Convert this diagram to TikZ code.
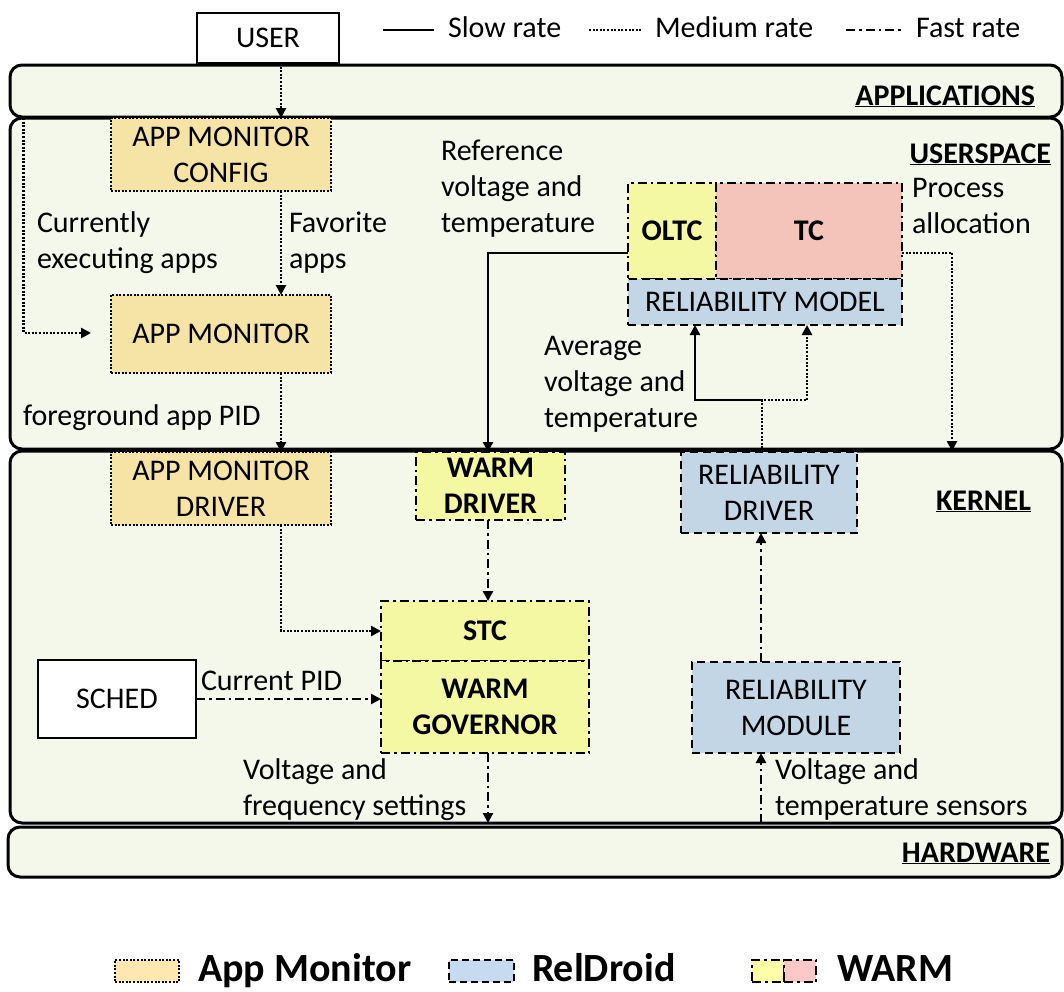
\documentclass[tikz,border=0pt]{standalone}
\usepackage{fontspec}
\setmainfont{Carlito}
\usetikzlibrary{arrows.meta,calc}

\definecolor{layerfill}{RGB}{244,248,235}
\definecolor{amfill}{RGB}{246,227,166}
\definecolor{warmy}{RGB}{244,248,163}
\definecolor{warmp}{RGB}{244,195,185}
\definecolor{relblue}{RGB}{195,214,230}
\definecolor{amlegend}{RGB}{255,232,176}
\definecolor{rellegend}{RGB}{198,218,240}
\definecolor{ylegend}{RGB}{255,255,166}
\definecolor{plegend}{RGB}{255,200,200}

\newcommand{\nf}{\fontsize{30}{36}\selectfont}
\newcommand{\lf}{\fontsize{40}{46}\selectfont\bfseries}

\tikzset{
  every node/.style={font=\nf, inner sep=0pt, outer sep=0pt},
  layer/.style={draw, line width=3pt, rounded corners=12pt, fill=layerfill, anchor=north west},
  slow/.style={line width=2.4pt},
  medium/.style={line width=2.6pt, dash pattern=on 2pt off 1.6pt},
  fast/.style={line width=2.4pt, dash pattern=on 9pt off 4pt on 2.5pt off 4pt},
  conn/.style={-{Triangle[length=10pt,width=10pt]}},
  amstyle/.style={draw, medium, fill=amfill, anchor=north west, align=center},
  relstyle/.style={draw, line width=2.6pt, dash pattern=on 8pt off 5pt, fill=relblue, anchor=north west, align=center},
  warmstyle/.style={draw, fast, line width=2.6pt, fill=warmy, anchor=north west, align=center, font=\nf\bfseries},
  plainbox/.style={draw, line width=2.6pt, fill=white, anchor=north west},
  % multi-line labels are placed by the baseline of their last line
  lbl/.style={anchor=base west, align=left},
  layertitle/.style={anchor=base east, font=\nf\bfseries},
}

\begin{document}
\begin{tikzpicture}[x=1pt,y=-1pt]
\useasboundingbox (0,0) rectangle (1064,991);

% rate legend
\coordinate (s1) at (383,30); \coordinate (s2) at (434,30);
\draw[slow] (s1) -- (s2);
\node[anchor=base west] (slowtxt) at (448,37) {Slow rate};
\coordinate (m1) at (589,30); \coordinate (m2) at (641,30);
\draw[medium] (m1) -- (m2);
\node[anchor=base west] (medtxt) at (655,37) {Medium rate};
\coordinate (f1) at (846,30); \coordinate (f2) at (903,30);
\draw[fast] (f1) -- (f2);
\node[anchor=base west] (fasttxt) at (916,37) {Fast rate};

% software layers
\node[layer, minimum width=1052pt, minimum height=52pt] (applications) at (10,65) {};
\node[layer, minimum width=1052pt, minimum height=331pt] (userspace) at (10,118) {};
\node[layer, minimum width=1052pt, minimum height=372pt] (kernel) at (10,451) {};
\node[layer, minimum width=1054pt, minimum height=50pt] (hardware) at (8,827) {};

\node[layertitle] (applab) at (1035,105) {\underline{APPLICATIONS}};
\node[layertitle] (userlab) at (1051,163) {\underline{USERSPACE}};
\node[layertitle] (kernlab) at (1031,510) {\underline{KERNEL}};
\node[layertitle] (hwlab) at (1050,862) {\underline{HARDWARE}};

% blocks
\node[plainbox, minimum width=142pt, minimum height=50pt] (user) at (197,13) {USER};
\node[amstyle, minimum width=220pt, minimum height=73pt] (amc) at (111,118) {APP MONITOR\\CONFIG};
\node[amstyle, minimum width=220pt, minimum height=78pt] (am) at (111,295) {APP MONITOR};
\node[amstyle, minimum width=220pt, minimum height=73pt] (amd) at (111,452) {APP MONITOR\\DRIVER};

\node[warmstyle, minimum width=88pt, minimum height=96pt] (oltc) at (628,183) {OLTC};
\node[warmstyle, fill=warmp, minimum width=186pt, minimum height=96pt] (tc) at (716,183) {TC};
\node[relstyle, minimum width=274pt, minimum height=46pt] (relmodel) at (628,279) {RELIABILITY MODEL};

\node[warmstyle, minimum width=149pt, minimum height=68pt] (warmdrv) at (416,452) {WARM\\DRIVER};
\node[relstyle, minimum width=176pt, minimum height=81pt] (reldrv) at (681,452) {RELIABILITY\\DRIVER};

\node[warmstyle, minimum width=208pt, minimum height=60pt] (stc) at (381,601) {STC};
\node[warmstyle, minimum width=208pt, minimum height=92pt] (gov) at (381,661) {WARM\\GOVERNOR};
\node[plainbox, minimum width=158pt, minimum height=78pt] (sched) at (38,660) {SCHED};
\node[relstyle, minimum width=208pt, minimum height=91pt] (relmod) at (692,662) {RELIABILITY\\MODULE};

% connector guides
\coordinate (amx) at (281,0);
\coordinate (curx) at (23.5,0);
\coordinate (amin) at (91,333);
\coordinate (stcy) at (0,631);
\coordinate (wx) at (488,0);
\coordinate (rx) at (761,0);
\coordinate (split) at (762,400);
\coordinate (m1x) at (695,0);
\coordinate (m2x) at (807,0);
\coordinate (refy) at (0,253);
\coordinate (px) at (952,0);

% connectors
\draw[medium, conn] (user.south -| amx) -- (amc.north -| amx);
\draw[medium, conn] (amc.south -| amx) -- (am.north -| amx);
\draw[medium, conn] (am.south -| amx) -- (amd.north -| amx);
\draw[medium, conn] (userspace.north -| curx) |- (amin);
\draw[medium, conn] (amd.south -| amx) |- (stc.west |- stcy);
\draw[fast, conn] (sched.east) -- (sched.east -| gov.west);
\draw[fast, conn] (warmdrv.south -| wx) -- (stc.north -| wx);
\draw[fast, conn] (gov.south -| wx) -- (kernel.south -| wx);
\draw[fast, conn] (kernel.south -| rx) -- (relmod.south -| rx);
\draw[fast, conn] (relmod.north -| rx) -- (reldrv.south -| rx);
\draw[medium, conn] (reldrv.north -| split) -- (split) -| (relmodel.south -| m2x);
\draw[slow, conn] (split) -| (relmodel.south -| m1x);
\draw[slow, conn] (oltc.west |- refy) -| (warmdrv.north -| wx);
\draw[medium, conn] (tc.east |- refy) -| (kernel.north -| px);

% labels
\node[lbl] (lcur) at (37,268) {Currently\\executing apps};
\node[lbl] (lfav) at (289,268) {Favorite\\apps};
\node[lbl] (lref) at (441,232) {Reference\\voltage and\\temperature};
\node[lbl] (lproc) at (912,233) {Process\\allocation};
\node[lbl] (lavg) at (544,427) {Average\\voltage and\\temperature};
\node[lbl] (lfg) at (23,425) {foreground app PID};
\node[lbl] (lpid) at (201,690) {Current PID};
\node[lbl] (lvf) at (243,815) {Voltage and\\frequency settings};
\node[lbl] (lvt) at (775,815) {Voltage and\\temperature sensors};

% component legend
\node[draw, medium, fill=amlegend, anchor=north west, minimum width=64pt, minimum height=22pt] (kam) at (115,960) {};
\node[anchor=base west, font=\lf] (kamt) at (198,981) {App Monitor};
\node[draw, line width=2.6pt, dash pattern=on 7pt off 4pt, fill=rellegend, anchor=north west, minimum width=65pt, minimum height=22pt] (krel) at (449,960) {};
\node[anchor=base west, font=\lf] (krelt) at (532,981) {RelDroid};
\node[draw, fast, fill=ylegend, anchor=north west, minimum width=32pt, minimum height=22pt] (kwy) at (752,960) {};
\node[draw, fast, fill=plegend, anchor=north west, minimum width=32pt, minimum height=22pt] (kwp) at (784,960) {};
\node[anchor=base west, font=\lf] (kwt) at (837,981) {WARM};
\end{tikzpicture}
\end{document}
